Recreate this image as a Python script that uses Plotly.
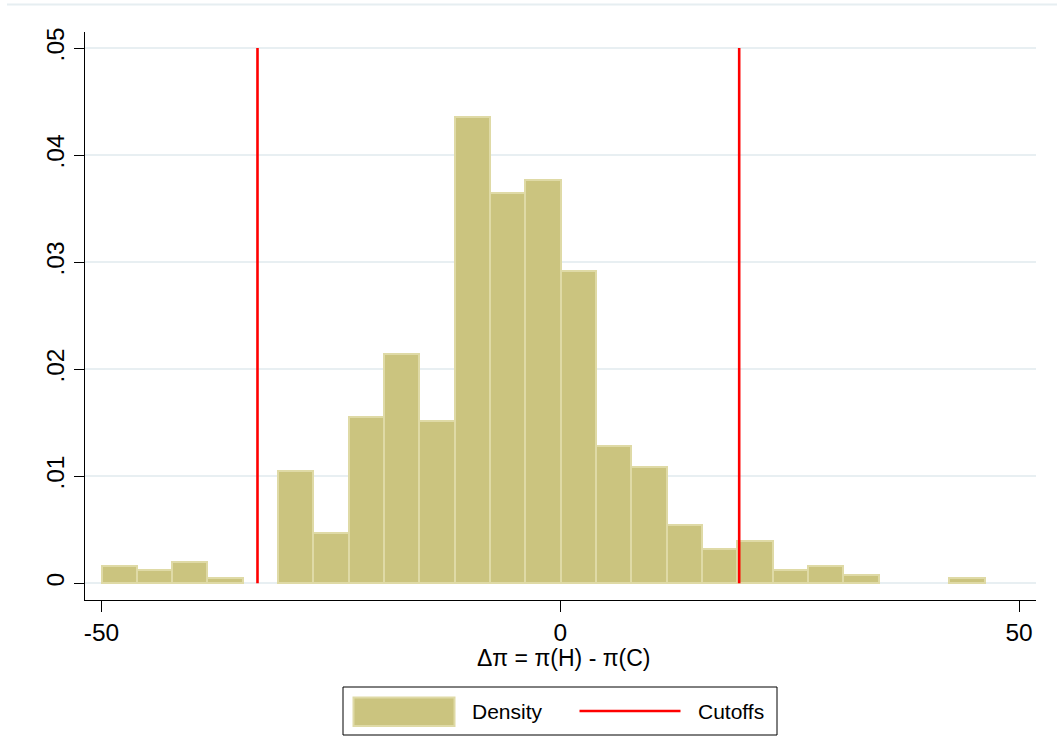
import plotly.graph_objects as go

# ---- data ----
bin_start = -50.0
bin_width = 3.85
density = [0.00162, 0.00124, 0.00202, 0.00047, 0.0, 0.01052, 0.00473, 0.01557,
           0.02143, 0.01520, 0.04355, 0.03650, 0.03769, 0.02919, 0.01286, 0.01090,
           0.00548, 0.00318, 0.00393, 0.00124, 0.00162, 0.00080, 0.0, 0.0, 0.00047]
cutoffs = [-33.0, 19.5]
cutoff_top = 0.05
x_ticks = [-50, 0, 50]
y_ticks = [0, 0.01, 0.02, 0.03, 0.04, 0.05]
y_tick_labels = ["0", ".01", ".02", ".03", ".04", ".05"]
x_title = "\u0394\u03c0 = \u03c0(H) - \u03c0(C)"
legend_labels = ["Density", "Cutoffs"]

centers = [bin_start + bin_width * (i + 0.5) for i in range(len(density))]
bar_heights = [d if d > 0 else None for d in density]  # empty bins draw nothing

FONT = "Liberation Sans, Arial, Helvetica, sans-serif"
BAR_FILL = "#cbc47f"
BAR_EDGE = "#dfdaa6"
GRID = "#e8eff2"

fig = go.Figure()
fig.add_trace(go.Bar(
    x=centers, y=bar_heights, width=bin_width,
    marker=dict(color=BAR_FILL, line=dict(color=BAR_EDGE, width=2)),
    name=legend_labels[0], showlegend=False,
))

cx, cy = [], []
for c in cutoffs:
    cx += [c, c, None]
    cy += [0, cutoff_top, None]
fig.add_trace(go.Scatter(
    x=cx, y=cy, mode="lines", line=dict(color="#ff0000", width=2.6),
    name=legend_labels[1], showlegend=False,
))

# plot-area geometry helpers (pixels -> paper)
L, R, T, B = 85, 21, 32, 136
W, H = 1057, 736
PW, PH = W - L - R, H - T - B
def px(x):
    return (x - L) / PW
def py(y):
    return (H - B - y) / PH

shapes = [
    dict(type="line", xref="paper", yref="paper", x0=px(7), x1=px(1057), y0=py(4.5), y1=py(4.5),
         line=dict(color="#e6eef1", width=2), layer="below"),
    dict(type="rect", xref="paper", yref="paper", x0=px(343), x1=px(777), y0=py(735), y1=py(687),
         line=dict(color="#000000", width=1), fillcolor="rgba(0,0,0,0)"),
    dict(type="rect", xref="paper", yref="paper", x0=px(353.5), x1=px(454.5), y0=py(726), y1=py(697.5),
         line=dict(color=BAR_EDGE, width=2), fillcolor=BAR_FILL),
    dict(type="line", xref="paper", yref="paper", x0=px(579.5), x1=px(680.5), y0=py(711), y1=py(711),
         line=dict(color="#ff0000", width=2.6)),
]

annotations = [
    dict(text=legend_labels[0], xref="paper", yref="paper", x=px(470), y=py(711),
         xanchor="left", yanchor="middle", showarrow=False,
         font=dict(family=FONT, size=21, color="#000000")),
    dict(text=legend_labels[1], xref="paper", yref="paper", x=px(695.5), y=py(711),
         xanchor="left", yanchor="middle", showarrow=False,
         font=dict(family=FONT, size=21, color="#000000")),
    dict(text=x_title, xref="paper", yref="paper", x=px(563), y=py(658),
         xanchor="center", yanchor="middle", showarrow=False,
         font=dict(family=FONT, size=23, color="#000000")),
]

fig.update_layout(
    width=W, height=H,
    margin=dict(l=L, r=R, t=T, b=B, pad=0),
    paper_bgcolor="#ffffff", plot_bgcolor="#ffffff",
    bargap=0, showlegend=False,
    font=dict(family=FONT, color="#000000"),
    shapes=shapes, annotations=annotations,
)
fig.update_xaxes(
    range=[-51.8, 51.85], tickvals=x_ticks, ticktext=[str(v) for v in x_ticks],
    showgrid=False, zeroline=False,
    showline=True, linecolor="#000000", linewidth=1,
    ticks="outside", ticklen=11, tickcolor="#000000", tickwidth=1,
    tickfont=dict(family=FONT, size=24.5, color="#000000"),
)
fig.update_yaxes(
    range=[-0.00156, 0.0515], tickvals=y_ticks, ticktext=y_tick_labels,
    showgrid=True, gridcolor=GRID, gridwidth=1.5, zeroline=False,
    showline=True, linecolor="#000000", linewidth=1,
    ticks="outside", ticklen=10, tickcolor="#000000", tickwidth=1,
    tickangle=-90, ticklabelstandoff=0,
    tickfont=dict(family=FONT, size=24.5, color="#000000"),
)

fig.write_html("out.html", config={"displayModeBar": False},
               post_script="document.body.style.margin='0';document.body.style.overflow='hidden';")
